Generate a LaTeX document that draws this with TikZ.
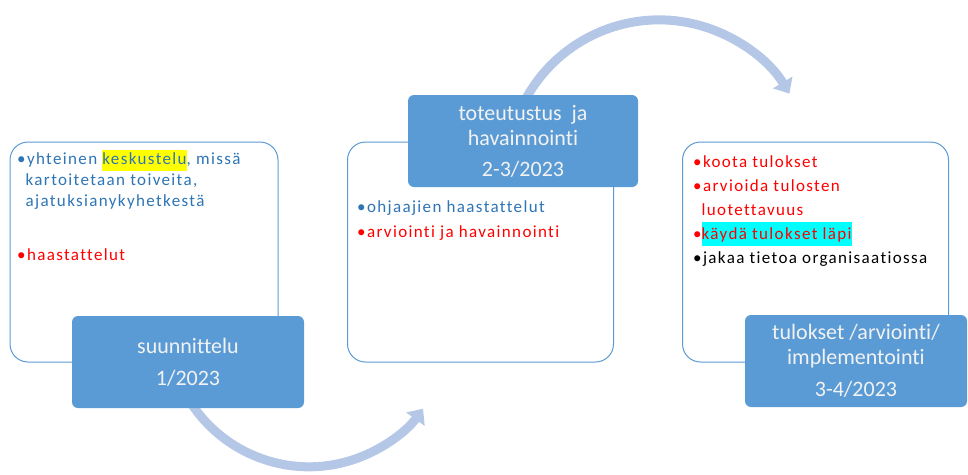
\documentclass[tikz,border=0pt]{standalone}
\usepackage{fontspec}
\setmainfont[Ligatures=NoCommon]{Carlito}
\newfontfamily\listfont[LetterSpace=8,Ligatures=NoCommon]{Carlito}
\usetikzlibrary{arrows.meta,backgrounds}

\definecolor{stageblue}{HTML}{5B9BD5}
\definecolor{textblue}{HTML}{2E75B6}
\definecolor{arrowblue}{HTML}{B4C7E7}
\definecolor{markyellow}{HTML}{FFFF00}
\definecolor{markcyan}{HTML}{00FFFF}

\newcommand{\hilite}[2]{{\setlength{\fboxsep}{0pt}\colorbox{#1}{\strut#2}}}

\begin{document}
\begin{tikzpicture}[x=1pt,y=-1pt,
  phase/.style={draw=stageblue, fill=white, line width=1pt, rounded corners=18pt,
    minimum width=266pt, minimum height=220pt},
  stage/.style={fill=stageblue, rounded corners=6pt, minimum height=92pt,
    text=white!95!black, align=center, font=\fontsize{22}{25}\selectfont},
  itemlist/.style={anchor=north west, inner sep=0pt, align=left},
  looparrow/.style={arrowblue, line width=9pt, -{Triangle[width=22pt,length=13pt]}}]

  \useasboundingbox (0,0) rectangle (968,474);

  % phase boxes
  \node[phase, minimum width=268pt] (p1) at (144,252) {};
  \node[phase] (p2) at (480.5,252) {};
  \node[phase] (p3) at (815.5,252) {};

  \node[itemlist, font=\listfont\fontsize{17}{21}\selectfont] (l1) at (17,150) {%
    \strut{\color{textblue}\textbullet yhteinen \hilite{markyellow}{keskustelu}, missä}\\
    \hphantom{\textbullet}{\color{textblue}kartoitetaan toiveita,}\\
    \hphantom{\textbullet}{\color{textblue}ajatuksianykyhetkestä}\\[33pt]
    {\color{red}\textbullet haastattelut}};

  \node[itemlist, font=\listfont\fontsize{17}{25}\selectfont] (l2) at (357,194.5) {%
    \strut{\color{textblue}\textbullet ohjaajien haastattelut}\\
    {\color{red}\textbullet arviointi ja havainnointi}};

  \node[itemlist, font=\listfont\fontsize{17}{24}\selectfont] (l3) at (693,150) {%
    \strut{\color{red}\textbullet koota tulokset}\\
    {\color{red}\textbullet arvioida tulosten}\\
    {\color{red}\hphantom{\textbullet}luotettavuus}\\
    {\color{red}\textbullet\hilite{markcyan}{käydä tulokset läpi}}\\
    \textbullet jakaa tietoa organisaatiossa};

  % stage labels
  \node[stage, minimum width=232pt] (s1) at (188,362) {suunnittelu\\[7pt]1/2023};
  \node[stage, minimum width=230pt] (s2) at (523,141) {toteutustus\ \ ja\\havainnointi\\[6pt]2-3/2023};
  \node[stage, minimum width=222pt] (s3) at (856,361) {tulokset /arviointi/\\implementointi\\[7pt]3-4/2023};

  % arrows between stages
  \begin{scope}[on background layer]
    \draw[looparrow] ([shift={(-11.5,12)}]s1.center) arc[start angle=160, end angle=36, radius=141];
    \draw[looparrow] ([shift={(-10,-11)}]s2.center) arc[start angle=196, end angle=329, radius=152];
  \end{scope}
\end{tikzpicture}
\end{document}
